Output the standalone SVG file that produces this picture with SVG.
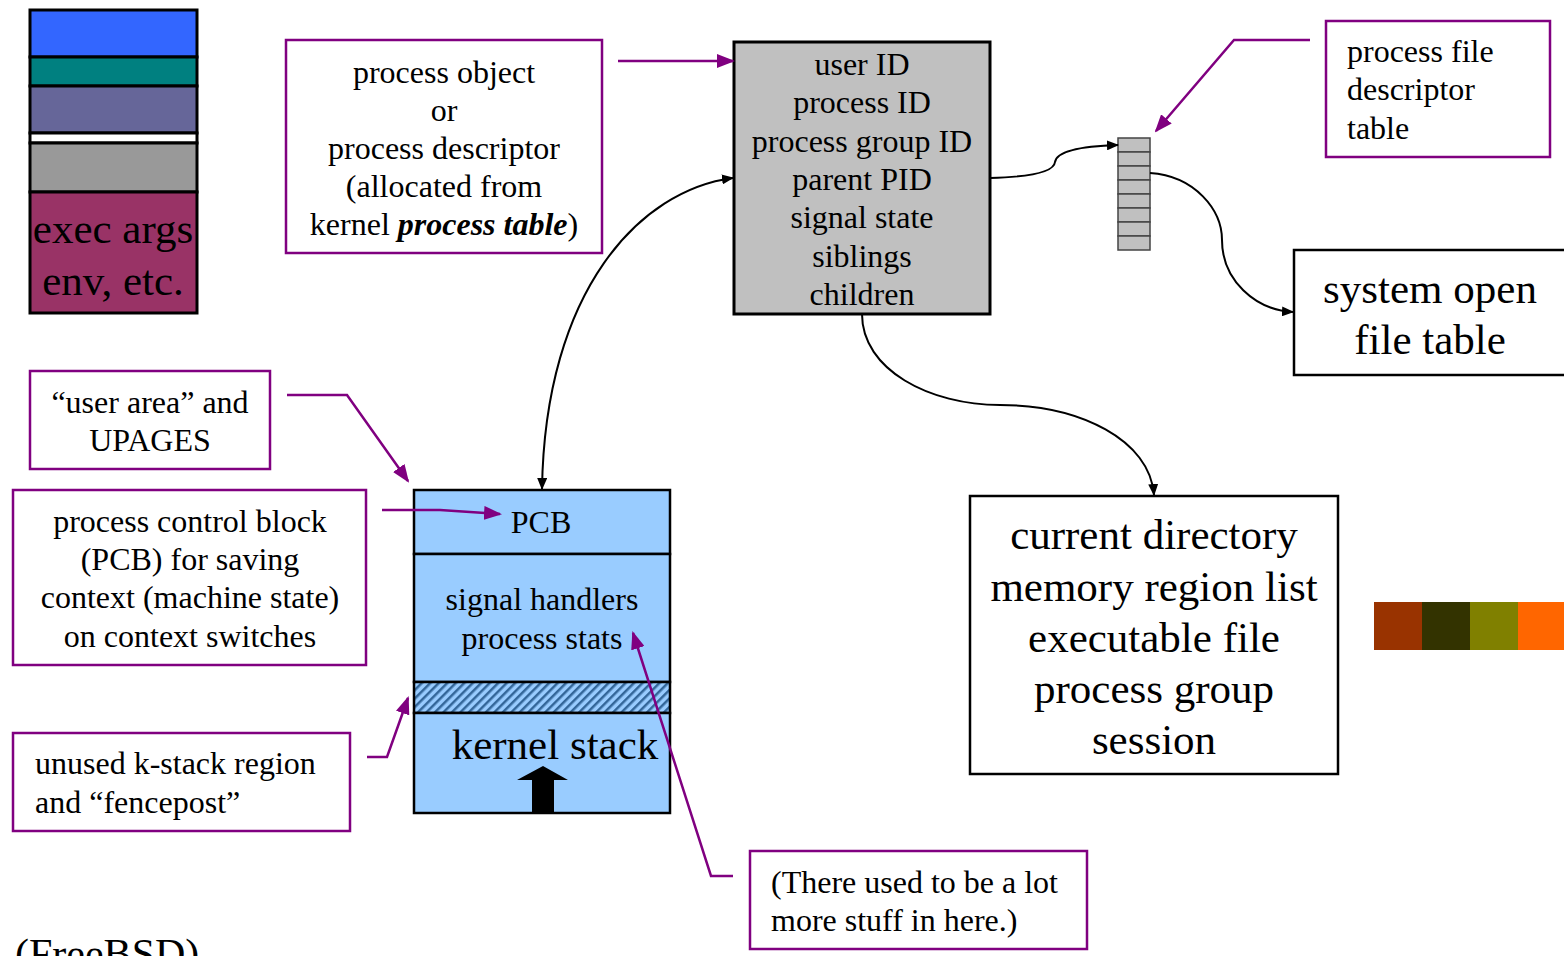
<svg xmlns="http://www.w3.org/2000/svg" width="1564" height="956" viewBox="0 0 1564 956">
<style>
text{font-family:"Liberation Serif","Times New Roman",serif;fill:#000}
.t29{font-size:32px}
.t40{font-size:43px}
.mid{text-anchor:middle}
.pbox{fill:#fff;stroke:#800080;stroke-width:2.5}
.bbox{fill:#fff;stroke:#000;stroke-width:2.5}
.blk{fill:none;stroke:#000;stroke-width:2}
.pur{fill:none;stroke:#800080;stroke-width:2.5}
.seg{stroke:#000;stroke-width:3}
</style>
<defs>
<marker id="ah" markerUnits="userSpaceOnUse" markerWidth="12" markerHeight="10" refX="11" refY="5" orient="auto">
<path d="M0,0 L12,5 L0,10 z" fill="#000"/>
</marker>
<marker id="ahs" markerUnits="userSpaceOnUse" markerWidth="12" markerHeight="10" refX="1" refY="5" orient="auto">
<path d="M12,0 L0,5 L12,10 z" fill="#000"/>
</marker>
<marker id="ap" markerUnits="userSpaceOnUse" markerWidth="18" markerHeight="14" refX="16" refY="7" orient="auto">
<path d="M0,0 L18,7 L0,14 z" fill="#800080"/>
</marker>
<pattern id="hatch" patternUnits="userSpaceOnUse" width="6" height="6" patternTransform="rotate(45)">
<rect width="6" height="6" fill="#99CCFF"/>
<rect width="2.5" height="6" fill="#336699"/>
</pattern>
</defs>

<g id="memstack">
<rect x="30" y="10" width="167" height="47" fill="#3366FF" class="seg"/>
<rect x="30" y="57" width="167" height="29" fill="#008080" class="seg"/>
<rect x="30" y="86" width="167" height="47" fill="#666699" class="seg"/>
<rect x="30" y="133" width="167" height="10" fill="#FFFFFF" class="seg"/>
<rect x="30" y="143" width="167" height="49" fill="#999999" class="seg"/>
<rect x="30" y="192" width="167" height="121" fill="#993366" class="seg"/>
<text class="mid" x="113" y="243" style="font-size:43px">exec args</text>
<text class="mid" x="113" y="295" style="font-size:43px">env, etc.</text>
</g>

<g id="process-object-label">
<rect x="286" y="40" width="316" height="213" class="pbox"/>
<text class="t29 mid" x="444" y="83">process object</text>
<text class="t29 mid" x="444" y="121">or</text>
<text class="t29 mid" x="444" y="159">process descriptor</text>
<text class="t29 mid" x="444" y="197">(allocated from</text>
<text class="t29 mid" x="444" y="235">kernel <tspan font-weight="bold" font-style="italic">process table</tspan>)</text>
</g>

<g id="process-descriptor">
<rect x="734" y="42" width="256" height="272" fill="#C0C0C0" stroke="#000" stroke-width="3"/>
<text class="t29 mid" x="862" y="75">user ID</text>
<text class="t29 mid" x="862" y="113">process ID</text>
<text class="t29 mid" x="862" y="152">process group ID</text>
<text class="t29 mid" x="862" y="190">parent PID</text>
<text class="t29 mid" x="862" y="228">signal state</text>
<text class="t29 mid" x="862" y="267">siblings</text>
<text class="t29 mid" x="862" y="305">children</text>
</g>

<g id="fd-table">
<rect x="1118" y="138" width="32" height="14" fill="#C0C0C0" stroke="#444" stroke-width="1.5"/>
<rect x="1118" y="152" width="32" height="14" fill="#C0C0C0" stroke="#444" stroke-width="1.5"/>
<rect x="1118" y="166" width="32" height="14" fill="#C0C0C0" stroke="#444" stroke-width="1.5"/>
<rect x="1118" y="180" width="32" height="14" fill="#C0C0C0" stroke="#444" stroke-width="1.5"/>
<rect x="1118" y="194" width="32" height="14" fill="#C0C0C0" stroke="#444" stroke-width="1.5"/>
<rect x="1118" y="208" width="32" height="14" fill="#C0C0C0" stroke="#444" stroke-width="1.5"/>
<rect x="1118" y="222" width="32" height="14" fill="#C0C0C0" stroke="#444" stroke-width="1.5"/>
<rect x="1118" y="236" width="32" height="14" fill="#C0C0C0" stroke="#444" stroke-width="1.5"/>
</g>

<g id="fd-table-label">
<rect x="1326" y="21" width="224" height="136" class="pbox"/>
<text class="t29" x="1347" y="62">process file</text>
<text class="t29" x="1347" y="100">descriptor</text>
<text class="t29" x="1347" y="139">table</text>
</g>

<g id="system-open-file-table">
<rect x="1294" y="250" width="280" height="125" class="bbox"/>
<text class="t40 mid" x="1430" y="303">system open</text>
<text class="t40 mid" x="1430" y="354">file table</text>
</g>

<g id="process-resources">
<rect x="970" y="496" width="368" height="278" class="bbox"/>
<text class="t40 mid" x="1154" y="549">current directory</text>
<text class="t40 mid" x="1154" y="601">memory region list</text>
<text class="t40 mid" x="1154" y="652">executable file</text>
<text class="t40 mid" x="1154" y="703">process group</text>
<text class="t40 mid" x="1154" y="754">session</text>
</g>

<g id="user-area-label">
<rect x="30" y="371" width="240" height="98" class="pbox"/>
<text class="t29 mid" x="150" y="413">“user area” and</text>
<text class="t29 mid" x="150" y="451">UPAGES</text>
</g>

<g id="pcb-label">
<rect x="13" y="490" width="353" height="175" class="pbox"/>
<text class="t29 mid" x="190" y="532">process control block</text>
<text class="t29 mid" x="190" y="570">(PCB) for saving</text>
<text class="t29 mid" x="190" y="608">context (machine state)</text>
<text class="t29 mid" x="190" y="647">on context switches</text>
</g>

<g id="user-area">
<rect x="414" y="490" width="256" height="64" fill="#99CCFF" stroke="#000" stroke-width="2.5"/>
<rect x="414" y="554" width="256" height="128" fill="#99CCFF" stroke="#000" stroke-width="2.5"/>
<rect x="414" y="682" width="256" height="31" fill="url(#hatch)" stroke="#000" stroke-width="2.5"/>
<rect x="414" y="713" width="256" height="100" fill="#99CCFF" stroke="#000" stroke-width="2.5"/>
<text class="t29 mid" x="541" y="533">PCB</text>
<text class="t29 mid" x="542" y="610">signal handlers</text>
<text class="t29 mid" x="542" y="649">process stats</text>
<text class="t40 mid" x="555" y="759">kernel stack</text>
<path d="M532,813 L532,780 L517,780 L543,766 L568,780 L554,780 L554,813 z" fill="#000"/>
</g>

<g id="kstack-label">
<rect x="13" y="733" width="337" height="98" class="pbox"/>
<text class="t29" x="35" y="774">unused k-stack region</text>
<text class="t29" x="35" y="813">and “fencepost”</text>
</g>

<g id="note-label">
<rect x="750" y="851" width="337" height="98" class="pbox"/>
<text class="t29" x="771" y="893">(There used to be a lot</text>
<text class="t29" x="771" y="931">more stuff in here.)</text>
</g>

<g id="palette">
<rect x="1374" y="602" width="48" height="48" fill="#993300"/>
<rect x="1422" y="602" width="48" height="48" fill="#333300"/>
<rect x="1470" y="602" width="48" height="48" fill="#808000"/>
<rect x="1518" y="602" width="48" height="48" fill="#FF6600"/>
</g>

<g id="caption">
<text x="15" y="968" style="font-size:42px">(FreeBSD)</text>
</g>

<g id="connectors">
<path class="pur" d="M618,61 L733,61" marker-end="url(#ap)"/>
<path class="pur" d="M1310,40 L1234,40 L1156,131" marker-end="url(#ap)"/>
<path class="pur" d="M287,395 L347,395 L408,481" marker-end="url(#ap)"/>
<path class="pur" d="M382,510 L440,510 L500,514" marker-end="url(#ap)"/>
<path class="pur" d="M367,757 L387,757 L408,698" marker-end="url(#ap)"/>
<path class="pur" d="M733,876 L711,876 L633,633" marker-end="url(#ap)"/>
<path class="blk" d="M990,178 C1030,177 1054,172 1055,162 C1057,150 1085,146 1118,145" marker-end="url(#ah)"/>
<path class="blk" d="M1150,173 C1195,176 1222,210 1222,240 C1222,280 1255,310 1293,312" marker-end="url(#ah)"/>
<path class="blk" d="M862,314 C862,370 930,405 1000,405 C1080,405 1150,440 1154,495" marker-end="url(#ah)"/>
<path class="blk" d="M733,178 C640,190 545,290 542,489" marker-start="url(#ahs)" marker-end="url(#ah)"/>
</g>
</svg>
